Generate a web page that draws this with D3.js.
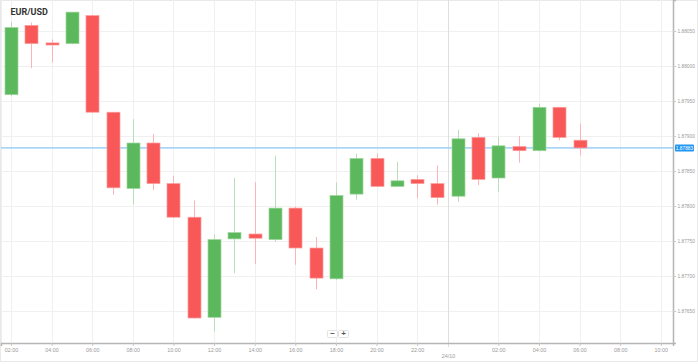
<!DOCTYPE html>
<html><head><meta charset="utf-8">
<script src="https://cdnjs.cloudflare.com/ajax/libs/d3/7.8.5/d3.min.js"></script>
<style>body{margin:0;background:#fff}svg{display:block}</style>
</head><body><svg id="c" width="698" height="364"></svg>
<script>
const title = "EUR/USD";
const times = ["2018-10-23T02:00","2018-10-23T03:00","2018-10-23T04:00","2018-10-23T05:00","2018-10-23T06:00","2018-10-23T07:00","2018-10-23T08:00","2018-10-23T09:00","2018-10-23T10:00","2018-10-23T11:00","2018-10-23T12:00","2018-10-23T13:00","2018-10-23T14:00","2018-10-23T15:00","2018-10-23T16:00","2018-10-23T17:00","2018-10-23T18:00","2018-10-23T19:00","2018-10-23T20:00","2018-10-23T21:00","2018-10-23T22:00","2018-10-23T23:00","2018-10-24T00:00","2018-10-24T01:00","2018-10-24T02:00","2018-10-24T03:00","2018-10-24T04:00","2018-10-24T05:00","2018-10-24T06:00"];
const open  = [1.87959,1.88058,1.88033,1.88032,1.88072,1.87934,1.87825,1.87890,1.87832,1.87784,1.87641,1.87753,1.87760,1.87752,1.87797,1.87740,1.87696,1.87817,1.87868,1.87828,1.87838,1.87832,1.87814,1.87898,1.87840,1.87885,1.87879,1.87941,1.87894];
const high  = [1.88063,1.88062,1.88038,1.88077,1.88073,1.87934,1.87924,1.87903,1.87843,1.87808,1.87759,1.87840,1.87834,1.87872,1.87799,1.87756,1.87834,1.87875,1.87875,1.87863,1.87844,1.87858,1.87909,1.87904,1.87899,1.87900,1.87946,1.87941,1.87918];
const low   = [1.87957,1.87997,1.88005,1.88031,1.87933,1.87816,1.87802,1.87823,1.87783,1.87639,1.87621,1.87704,1.87717,1.87749,1.87716,1.87681,1.87694,1.87809,1.87827,1.87827,1.87811,1.87802,1.87806,1.87830,1.87820,1.87862,1.87878,1.87894,1.87872];
const close = [1.88055,1.88032,1.88030,1.88077,1.87934,1.87826,1.87890,1.87832,1.87784,1.87640,1.87752,1.87762,1.87754,1.87797,1.87740,1.87697,1.87815,1.87868,1.87828,1.87836,1.87832,1.87812,1.87896,1.87838,1.87886,1.87879,1.87941,1.87898,1.87883];
const yTicks = [1.8765,1.8770,1.8775,1.8780,1.8785,1.8790,1.8795,1.8800,1.8805];
const currentPrice = 1.87883;
const dayLabel = "24/10";
const dayLabelTime = "2018-10-23T23:30";
const domainStart = "2018-10-23T01:30:30", domainEnd = "2018-10-24T10:36:00";

const parse = d3.timeParse("%Y-%m-%dT%H:%M");
const parseS = d3.timeParse("%Y-%m-%dT%H:%M:%S");
const data = times.map((t,i)=>({t:parse(t),o:open[i],h:high[i],l:low[i],c:close[i]}));

const L=1, R=673, T=0, B=343;
const svg = d3.select("#c");
const x = d3.scaleTime().domain([parseS(domainStart), parseS(domainEnd)]).range([L,R]);
const y = d3.scaleLinear().domain([1.876043,1.880943]).range([B,T]);

// outer frame
svg.append("rect").attr("x",0.5).attr("y",0.5).attr("width",697).attr("height",361)
  .attr("fill","#fff").attr("stroke","#e9e9e9");

const xTickVals = d3.timeHour.every(2).range(x.domain()[0], x.domain()[1]).filter(d=>d.getHours()!==0);

// grid
const g = svg.append("g");
g.selectAll(".vg").data(xTickVals).join("line")
  .attr("x1",d=>Math.round(x(d))+0.5).attr("x2",d=>Math.round(x(d))+0.5).attr("y1",T).attr("y2",B)
  .attr("stroke","#f0f0f0");
g.selectAll(".hg").data(yTicks).join("line")
  .attr("x1",L).attr("x2",R).attr("y1",d=>Math.round(y(d))+0.5).attr("y2",d=>Math.round(y(d))+0.5)
  .attr("stroke","#f0f0f0");
// day separator
const dx = Math.round(x(parse(dayLabelTime)))+0.5;
g.append("line").attr("x1",dx).attr("x2",dx).attr("y1",T).attr("y2",B+4).attr("stroke","#dedede");
// left border
g.append("line").attr("x1",1.5).attr("x2",1.5).attr("y1",T).attr("y2",B).attr("stroke","#eee");

// current price line
svg.append("line").attr("x1",L).attr("x2",R).attr("y1",y(currentPrice)).attr("y2",y(currentPrice))
  .attr("stroke","#a9d6f7").attr("stroke-width",1.6);

// candles
const bw = 13;
const up = "#5cb85c", down = "#f95858", upW = "#b9dfb9", downW = "#fcb4b4";
const cg = svg.append("g");
cg.selectAll(".w").data(data).join("line")
  .attr("x1",d=>Math.round(x(d.t))+0.5).attr("x2",d=>Math.round(x(d.t))+0.5)
  .attr("y1",d=>y(d.h)).attr("y2",d=>y(d.l))
  .attr("stroke",d=>d.c>=d.o?upW:downW).attr("stroke-width",1);
cg.selectAll(".b").data(data).join("rect")
  .attr("x",d=>Math.round(x(d.t))+0.5-bw/2).attr("width",bw)
  .attr("y",d=>y(Math.max(d.o,d.c))).attr("height",d=>Math.max(1.5,Math.abs(y(d.o)-y(d.c))))
  .attr("fill",d=>d.c>=d.o?up:down)
  .attr("stroke",d=>d.c>=d.o?"#9fd69f":"#fb9d9d").attr("stroke-width",0.7);

// axes
const yAxis = d3.axisRight(y).tickValues(yTicks).tickFormat(d3.format(".5f")).tickSize(3).tickPadding(1.5);
const ya = svg.append("g").attr("transform",`translate(${R},0)`).call(yAxis);
ya.select(".domain").attr("stroke","#b5b5b5").attr("stroke-width",1.5);
ya.selectAll(".tick line").attr("stroke","#c8c8c8");
ya.selectAll("text").attr("fill","#9a9a9a").style("font-family","Arial, 'Liberation Sans', sans-serif").style("font-size","4.8px");

const xAxis = d3.axisBottom(x).tickValues(xTickVals).tickFormat(d3.timeFormat("%H:%M")).tickSize(3).tickPadding(2);
const xa = svg.append("g").attr("transform",`translate(0,${B})`).call(xAxis);
xa.select(".domain").attr("stroke","#b5b5b5").attr("stroke-width",1.5);
xa.selectAll(".tick line").attr("stroke","#c8c8c8");
xa.selectAll("text").attr("fill","#9a9a9a").style("font-family","Arial, 'Liberation Sans', sans-serif").style("font-size","5.4px");
svg.append("text").attr("x",dx).attr("y",358).attr("text-anchor","middle")
  .attr("fill","#9a9a9a").style("font-family","Arial, 'Liberation Sans', sans-serif").style("font-size","5.4px").text(dayLabel);

// current price label
const cy = y(currentPrice);
svg.append("rect").attr("x",R+2).attr("y",cy-3.5).attr("width",19).attr("height",7).attr("rx",1)
  .attr("fill","#2196f3");
svg.append("text").attr("x",R+11.5).attr("y",cy+1.7).attr("text-anchor","middle").attr("fill","#fff")
  .style("font-family","Arial, 'Liberation Sans', sans-serif").style("font-size","4.8px").text(d3.format(".5f")(currentPrice));

// title
svg.append("text").attr("x",10.5).attr("y",15).attr("fill","#333")
  .style("font-family","Roboto, Arial, sans-serif").style("font-weight","bold").style("font-size","9px").text(title);

// zoom buttons
const btns = [{s:"\u2212",x:327},{s:"+",x:338}];
const bg = svg.append("g");
btns.forEach(b=>{
  bg.append("rect").attr("x",b.x+0.5).attr("y",330.5).attr("width",10).attr("height",7)
    .attr("fill","#fff").attr("stroke","#e2e2e2").attr("rx",1);
  bg.append("text").attr("x",b.x+5.5).attr("y",336.3).attr("text-anchor","middle").attr("fill","#555")
    .style("font-family","Arial, sans-serif").style("font-size","8px").style("font-weight","bold").text(b.s);
});
</script></body></html>
